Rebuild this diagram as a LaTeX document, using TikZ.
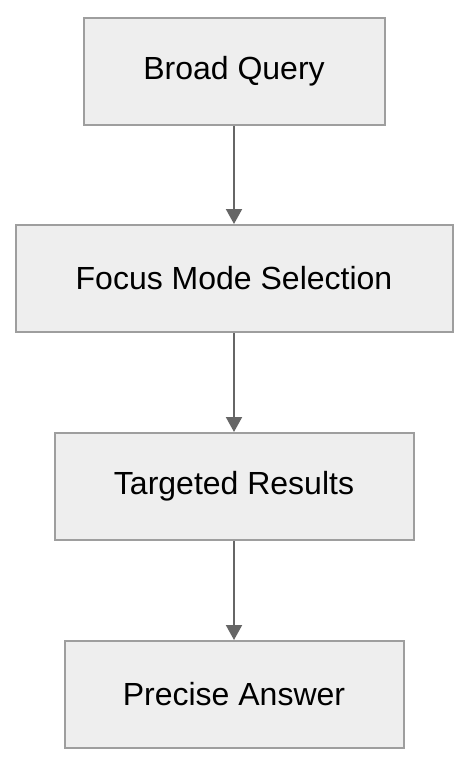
\documentclass[tikz,border=0pt]{standalone}
\usepackage{fontspec}
\setmainfont{Liberation Sans}
\usetikzlibrary{positioning, arrows.meta}
\definecolor{boxfill}{HTML}{EEEEEE}
\definecolor{boxline}{HTML}{9E9E9E}
\definecolor{arrowgray}{HTML}{666666}
\tikzset{
    stepbox/.style={
        draw=boxline, fill=boxfill, line width=2pt, minimum height=107pt,
        font=\fontsize{32}{38}\selectfont, anchor=north, inner sep=0pt
    },
    flowptr/.style={
        -{Triangle[length=15pt, width=16pt]}, line width=2pt, arrowgray
    }
}
\begin{document}
\begin{tikzpicture}[x=1pt, y=-1pt]
    \useasboundingbox (0,0) rectangle (468,764);
    % boxes
    \node[stepbox, minimum width=301pt] (query) at (234,17) {Broad Query};
    \node[stepbox, minimum width=437pt] (focus) at (234,224) {Focus Mode Selection};
    \node[stepbox, minimum width=359pt] (results) at (234,432) {Targeted Results};
    \node[stepbox, minimum width=339pt] (answer) at (234,640) {Precise Answer};

    % arrows
    \draw[flowptr] (query) -- (focus);
    \draw[flowptr] (focus) -- (results);
    \draw[flowptr] (results) -- (answer);
\end{tikzpicture}
\end{document}
